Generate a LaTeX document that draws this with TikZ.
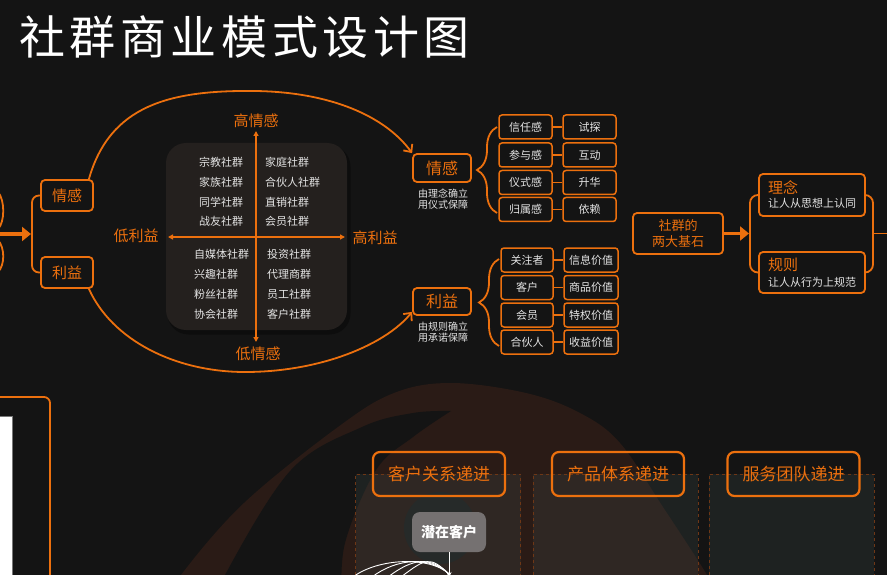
\documentclass[tikz,border=0pt]{standalone}
\usepackage{fontspec}
\setmainfont{Noto Sans CJK SC}
\usetikzlibrary{arrows.meta,decorations.pathreplacing,calc}
\definecolor{bg}{RGB}{20,20,20}
\definecolor{org}{RGB}{236,112,14}
\definecolor{quad}{RGB}{36,32,30}
\definecolor{ring}{RGB}{42,27,22}
\definecolor{txt}{RGB}{228,228,228}
\definecolor{panelfill}{RGB}{62,76,74}
\definecolor{paneledge}{RGB}{110,55,22}
\definecolor{gbox}{RGB}{117,113,113}
\definecolor{darkdisc}{RGB}{30,31,31}
\definecolor{pagegray}{RGB}{120,120,120}
\begin{document}
\begin{tikzpicture}[x=1pt,y=-1pt,
  myfont/.style={font=\fontsize{#1}{#1}\selectfont},
  oline/.style={draw=org, line width=1.8pt},
  obox/.style={draw=org, line width=1.8pt, rounded corners=4pt, fill=bg, inner sep=0pt, text=org},
  sbox/.style={draw=org, line width=1.5pt, rounded corners=3pt, fill=bg, minimum height=24pt, inner sep=0pt, text=txt, myfont=11},
  qtext/.style={anchor=west, inner sep=0pt, text=txt, myfont=11},
  olabel/.style={inner sep=0pt, text=org, myfont=15},
  hbox/.style={draw=org, line width=2.2pt, rounded corners=7pt, minimum width=132pt, minimum height=44pt, inner sep=0pt, text=org, myfont=17},
  panel/.style={draw=paneledge, dashed, line width=0.6pt, fill=panelfill, fill opacity=0.25, minimum width=165pt, minimum height=130pt, inner sep=0pt},
  barb/.style={-{Straight Barb[length=6pt,width=11pt]}},
]
\useasboundingbox (0,0) rectangle (887,575);
\clip (0,0) rectangle (887,575);
\fill[bg] (0,0) rectangle (887,575);

% background decoration
\fill[ring] plot[smooth, tension=0.6] coordinates {(170,600) (181,575) (244,503) (338,427) (394,393) (451,383) (526,393) (580,413) (620,443) (663,507) (707,575) (718,600)} -- cycle;
\fill[bg] plot[smooth, tension=0.6] coordinates {(220,600) (225,575) (291,470) (362,427) (413,413) (451,411)} -- plot[smooth, tension=0.6] coordinates {(451,411) (413,437) (376,470) (345,543) (342,600)} -- cycle;
\fill[darkdisc] (440,528) circle (36pt);

% bottom panels
\node[panel] (pn1) at (438,539) {};
\node[panel] (pn2) at (615.5,539) {};
\node[panel] (pn3) at (791.5,539) {};
\node[hbox] (hd1) at (439,474) {客户关系递进};
\node[hbox] (hd2) at (618,474) {产品体系递进};
\node[hbox] (hd3) at (793.5,474) {服务团队递进};

\node[fill=gbox, rounded corners=8pt, minimum width=74pt, minimum height=40pt, inner sep=0pt, text=white, font=\fontsize{14}{14}\selectfont\bfseries] (pc) at (449,532) {潜在客户};
\coordinate (pcend) at (449,578);
\draw[white, line width=1pt, -{Stealth[length=6pt,width=5pt]}] (pc.south) -- (pcend);
\foreach \x in {353,372,388,401} \draw[white, line width=0.9pt] (\x,577) .. controls (\x+25,558) and (430,556) .. (449,574);

% bottom-left partial box
\node[draw=org, line width=1.8pt, rounded corners=6pt, minimum width=200pt, minimum height=220pt, inner sep=0pt] (blbox) at (-50,507) {};
\node[fill=white, draw=pagegray, line width=1pt, minimum width=40pt, minimum height=180pt, inner sep=0pt] (wpage) at (-8,506) {};

% title
\node[anchor=west, inner sep=0pt, text=white, font=\fontsize{46}{46}\selectfont\addfontfeature{LetterSpace=10}] (title) at (19,37) {社群商业模式设计图};

% quadrant
\node[fill=black, fill opacity=0.35, rounded corners=21pt, minimum width=183pt, minimum height=189pt, inner sep=0pt] (qsh) at (259,240) {};
\node[fill=quad, rounded corners=20pt, minimum width=181pt, minimum height=187pt, inner sep=0pt] (quad) at (256.5,236.5) {};
\node[olabel] (hiE) at (256,121) {高情感};
\node[olabel] (loE) at (258,354) {低情感};
\node[olabel] (loP) at (136,236) {低利益};
\node[olabel] (hiP) at (375,237.5) {高利益};
\coordinate (axT) at (256,131);
\coordinate (axB) at (256,342);
\coordinate (axL) at (168,237);
\coordinate (axR) at (345,237);
\draw[org, line width=1.6pt, {Triangle[length=5pt,width=5pt]}-{Triangle[length=5pt,width=5pt]}] (axB) -- (axT);
\draw[org, line width=1.6pt, {Triangle[length=5pt,width=5pt]}-{Triangle[length=5pt,width=5pt]}] (axL) -- (axR);
\foreach \t/\y [count=\i] in {宗教社群/162, 家族社群/182, 同学社群/202, 战友社群/221} \node[qtext] (tl\i) at (199,\y) {\t};
\foreach \t/\y [count=\i] in {家庭社群/162, 合伙人社群/182, 直销社群/202, 会员社群/221} \node[qtext] (tr\i) at (265,\y) {\t};
\foreach \t/\y [count=\i] in {自媒体社群/254, 兴趣社群/274, 粉丝社群/294, 协会社群/314} \node[qtext] (bl\i) at (194,\y) {\t};
\foreach \t/\y [count=\i] in {投资社群/254, 代理商群/274, 员工社群/294, 客户社群/314} \node[qtext] (br\i) at (267,\y) {\t};

% left
\node[obox, minimum width=52pt, minimum height=31pt, myfont=15] (L1) at (67,195.5) {情感};
\node[obox, minimum width=52pt, minimum height=31pt, myfont=15] (L2) at (67,272.5) {利益};
\draw[oline, rounded corners=7pt] (L1.west) -- (32,195.5) -- (32,272.5) -- (L2.west);
\coordinate (la0) at (-2,234);
\coordinate (la1) at (31,234);
\draw[org, line width=3pt, -{Triangle[length=9pt,width=14pt]}] (la0) -- (la1);
\draw[oline] (-2,192) .. controls (5,200) and (5,222) .. (-2,229);
\draw[oline] (-2,240) .. controls (5,248) and (5,265) .. (-2,272);

% middle
\node[obox, minimum width=58pt, minimum height=28pt, myfont=16] (M1) at (442,168) {情感};
\node[inner sep=0pt, text=txt, align=center, font=\fontsize{10}{11.5}\selectfont] (M1c) at (443,199) {由理念确立\\用仪式保障};
\node[obox, minimum width=58pt, minimum height=27pt, myfont=16] (M2) at (442,301.5) {利益};
\node[inner sep=0pt, text=txt, align=center, font=\fontsize{10}{11.5}\selectfont] (M2c) at (443,332) {由规则确立\\用承诺保障};
\coordinate (M2in) at ($(M2.south west)+(0,-4)$);
\draw[oline, barb] ($(L1.north east)+(-5,0)$) .. controls (110,105) and (170,90) .. (255,91) .. controls (330,92) and (385,116) .. (M1.north west);
\draw[oline, barb] ($(L2.south east)+(-5,0)$) .. controls (112,340) and (175,372) .. (245,372) .. controls (320,372) and (385,345) .. (M2in);

\draw[oline, decorate, decoration={brace, amplitude=20pt}] (497,213) -- (497,127);
\draw[oline, decorate, decoration={brace, amplitude=20pt}] (499,346) -- (499,259);

\foreach \a/\b/\y [count=\i] in {信任感/试探/127, 参与感/互动/155, 仪式感/升华/182.5, 归属感/依赖/209.5} {
  \node[sbox, minimum width=53pt] (e\i) at (525.5,\y) {\a};
  \node[sbox, minimum width=53pt] (f\i) at (589.5,\y) {\b};
  \draw[oline] (e\i.east) -- (f\i.west);
}
\foreach \a/\b/\y [count=\i] in {关注者/信息价值/260, 客户/商品价值/287.5, 会员/特权价值/315, 合伙人/收益价值/342} {
  \node[sbox, minimum width=52pt] (g\i) at (527,\y) {\a};
  \node[sbox, minimum width=54pt] (v\i) at (591,\y) {\b};
  \draw[oline] (g\i.east) -- (v\i.west);
}

% right
\node[obox, minimum width=90pt, minimum height=41pt, align=center, font=\fontsize{13}{16}\selectfont] (F) at (678,233.5) {社群的\\两大基石};
\coordinate (Ftip) at (749,233.5);
\draw[org, line width=3pt, -{Triangle[length=9pt,width=14pt]}] (F.east) -- (Ftip);
\node[obox, minimum width=106pt, minimum height=42pt] (R1) at (812,195) {};
\node[anchor=west, inner sep=0pt, text=org, myfont=15] (R1a) at (768,187) {理念};
\node[anchor=west, inner sep=0pt, text=txt, myfont=11] (R1b) at (768,203) {让人从思想上认同};
\node[obox, minimum width=106pt, minimum height=41pt] (R2) at (812,272.5) {};
\node[anchor=west, inner sep=0pt, text=org, myfont=15] (R2a) at (768,265) {规则};
\node[anchor=west, inner sep=0pt, text=txt, myfont=11] (R2b) at (768,282) {让人从行为上规范};
\draw[oline, rounded corners=8pt] (R1.west) -- (750,195) -- (750,272.5) -- (R2.west);
\draw[oline, rounded corners=8pt] (R1.east) -- (873,195) -- (873,272.5) -- (R2.east);
\coordinate (rs0) at (873,233.5);
\coordinate (rs1) at (890,233.5);
\draw[oline] (rs0) -- (rs1);
\end{tikzpicture}
\end{document}
